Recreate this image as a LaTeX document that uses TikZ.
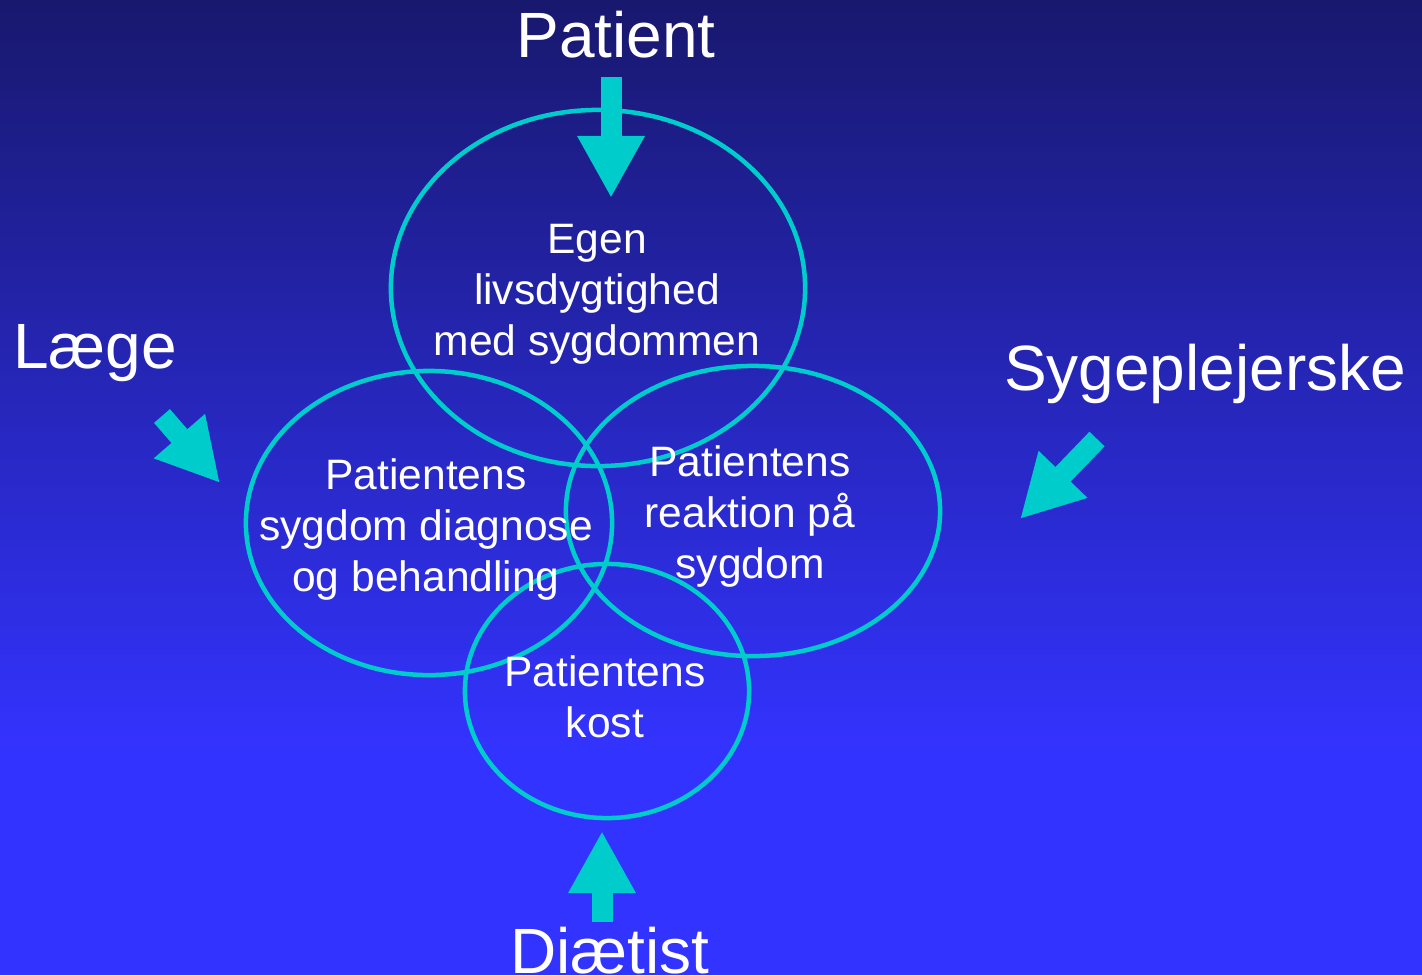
\documentclass[tikz,border=0pt]{standalone}
\usepackage{fontspec}
\setmainfont{Liberation Sans}
\usetikzlibrary{arrows.meta,shapes.geometric}
\definecolor{navy}{RGB}{24,24,110}
\definecolor{royal}{RGB}{51,51,255}
\definecolor{colT}{RGB}{0,204,204}
\tikzstyle{ring}=[ellipse, draw=colT, line width=0.045cm, inner sep=0pt]
\tikzstyle{pointer}=[colT, line width=0.21cm, -{Triangle[width=0.63cm,length=0.62cm]}]
\tikzstyle{role}=[text=white, anchor=base, inner sep=0pt, font=\fontsize{18.2}{22}\selectfont]
\tikzstyle{topic}=[text=white, align=center, inner sep=0pt, font=\fontsize{12.1}{14.5}\selectfont]

\begin{document}
\begin{tikzpicture}[x=0.01cm, y=-0.01cm]
			\useasboundingbox (0,0) rectangle (1422,975);
			% backdrop
			\shade[top color=navy, bottom color=royal] (0,0) rectangle (1422,750);
			\fill[royal] (0,750) rectangle (1422,975);
			% the four fields
			\node[ring, minimum width=4.14cm, minimum height=3.56cm] (egen) at (598,288) {};
			\node[ring, minimum width=3.66cm, minimum height=3.04cm] (diag) at (429,523) {};
			\node[ring, minimum width=3.74cm, minimum height=2.90cm] (reak) at (753,511) {};
			\node[ring, minimum width=2.84cm, minimum height=2.54cm] (kost) at (607,691) {};
			\node[topic] (egentxt) at (597,294) {Egen\\livsdygtighed\\med sygdommen};
			\node[topic] (diagtxt) at (426,529) {Patientens\\sygdom diagnose\\og behandling};
			\node[topic] (reaktxt) at (750,516) {Patientens\\reaktion på\\sygdom};
			\node[topic] (kosttxt) at (605,697) {Patientens\\kost};
			% who looks after what
			\node[role] (patient) at (616,57) {Patient};
			\node[role] (laege) at (95,368) {Læge};
			\node[role] (syge) at (1205,390) {Sygeplejerske};
			\node[role] (diaet) at (610,973) {Diætist};
			\coordinate (p0) at (611,77);  \coordinate (p1) at (611,198);
			\coordinate (l0) at (162,416); \coordinate (l1) at (220,483);
			\coordinate (s0) at (1097,439); \coordinate (s1) at (1020,519);
			\coordinate (d0) at (602,922); \coordinate (d1) at (602,831);
			\draw[pointer] (p0) -- (p1);
			\draw[pointer] (l0) -- (l1);
			\draw[pointer] (s0) -- (s1);
			\draw[pointer] (d0) -- (d1);
		\end{tikzpicture}
\end{document}
